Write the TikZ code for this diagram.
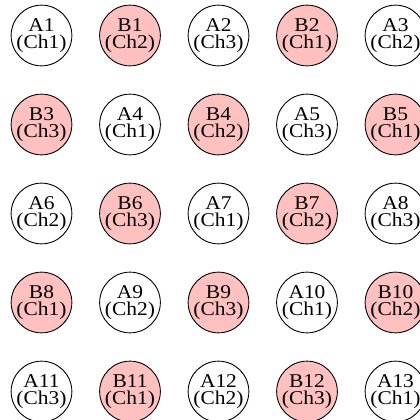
\documentclass[tikz,border=0pt]{standalone}
\usepackage{fontspec}
\setmainfont{Liberation Serif}
\newfontfamily\lblfont[FakeStretch=1.1]{Liberation Serif}
\begin{document}
\begin{tikzpicture}[x=1pt,y=-1pt,
  chan/.style={circle,draw=black,line width=0.9pt,minimum size=59pt,inner sep=0pt,
    align=center,font=\lblfont\fontsize{19.5}{17.5}\selectfont},
  anode/.style={chan,fill=white},
  bnode/.style={chan,fill={rgb,255:red,255;green,192;blue,192}}]
  \useasboundingbox (0,0) rectangle (420,420);
  \clip (0,0) rectangle (420,420);
  % 5x5 grid, alternating A (white) and B (pink) stations
  \foreach \lab/\ch/\kind [count=\i from 0] in {
    A1/1/a, B1/2/b, A2/3/a, B2/1/b, A3/2/a,
    B3/3/b, A4/1/a, B4/2/b, A5/3/a, B5/1/b,
    A6/2/a, B6/3/b, A7/1/a, B7/2/b, A8/3/a,
    B8/1/b, A9/2/a, B9/3/b, A10/1/a, B10/2/b,
    A11/3/a, B11/1/b, A12/2/a, B12/3/b, A13/1/a} {
    \pgfmathtruncatemacro{\col}{mod(\i,5)}
    \pgfmathtruncatemacro{\row}{div(\i,5)}
    \node[\kind node] (\lab) at ({41.5+88.5*\col},{35.5+89*\row}) {\lab\\(Ch\ch)};
  }
\end{tikzpicture}
\end{document}
